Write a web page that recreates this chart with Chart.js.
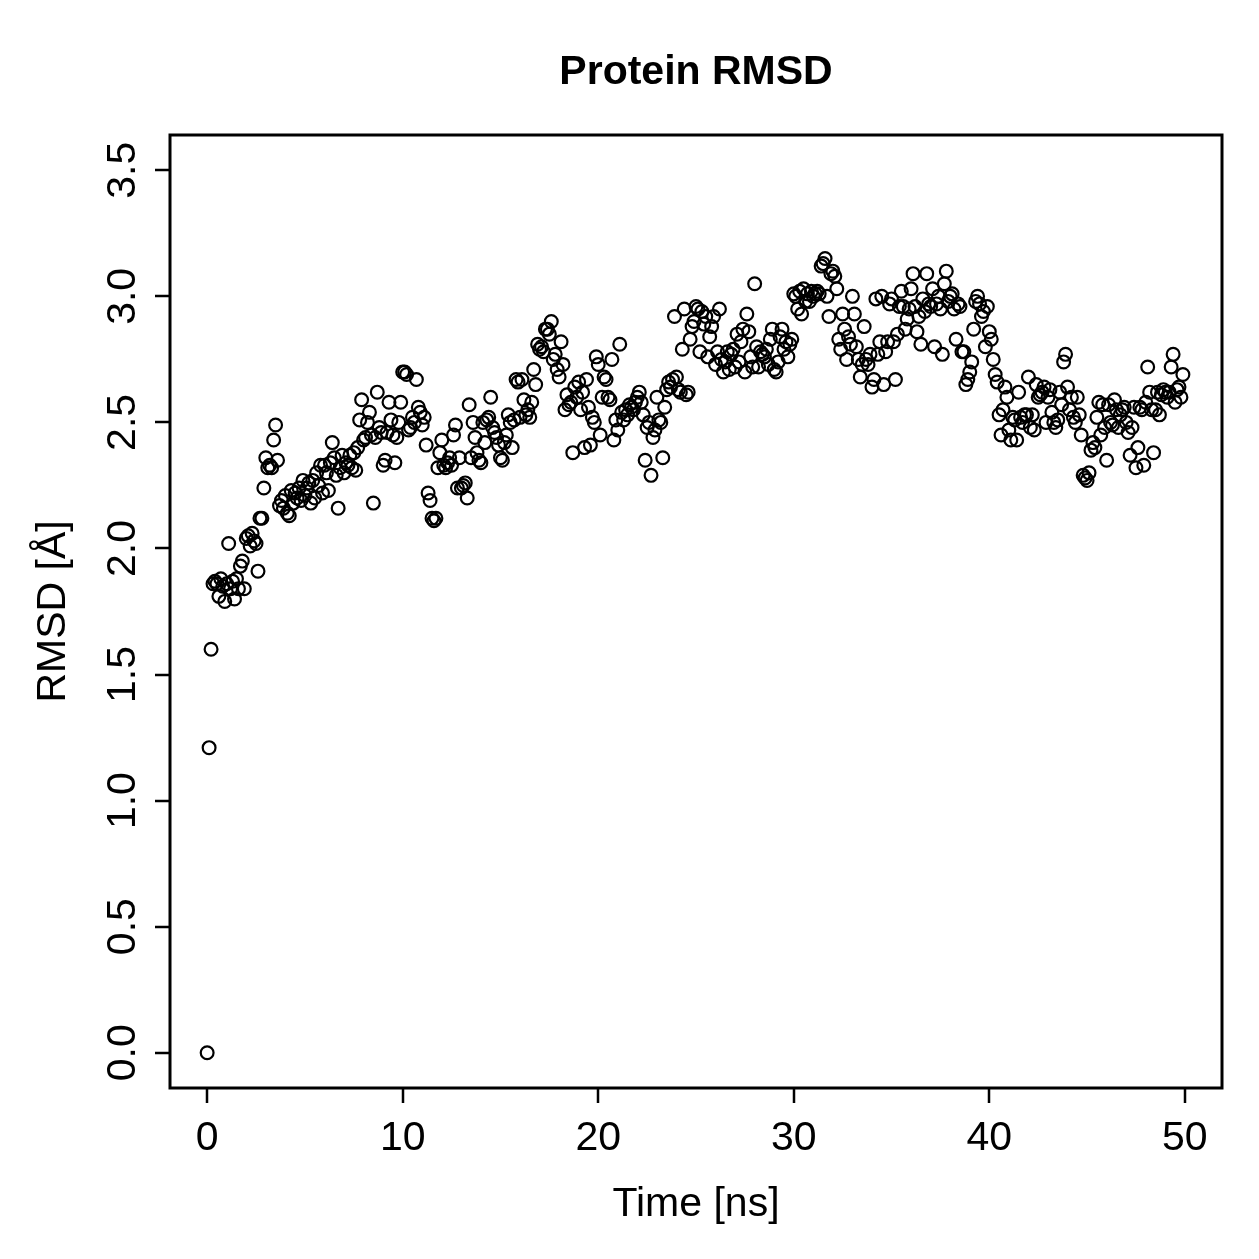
<!DOCTYPE html>
<html>
<head>
<meta charset="utf-8">
<title>Protein RMSD</title>
<script src="https://cdn.jsdelivr.net/npm/chart.js@4.4.1/dist/chart.umd.min.js"></script>
<style>
  html, body { margin: 0; padding: 0; background: #fff; }
  #wrap { width: 1259px; height: 1259px; }
</style>
</head>
<body>
<div id="wrap"><canvas id="rmsdPlot" width="1259" height="1259"></canvas></div>
<script>
// Time [ns], one frame every 0.1 ns
const time = [
  0.0, 0.1, 0.2, 0.3, 0.4, 0.5, 0.6, 0.7, 0.8, 0.9,
  1.0, 1.1, 1.2, 1.3, 1.4, 1.5, 1.6, 1.7, 1.8, 1.9,
  2.0, 2.1, 2.2, 2.3, 2.4, 2.5, 2.6, 2.7, 2.8, 2.9,
  3.0, 3.1, 3.2, 3.3, 3.4, 3.5, 3.6, 3.7, 3.8, 3.9,
  4.0, 4.1, 4.2, 4.3, 4.4, 4.5, 4.6, 4.7, 4.8, 4.9,
  5.0, 5.1, 5.2, 5.3, 5.4, 5.5, 5.6, 5.7, 5.8, 5.9,
  6.0, 6.1, 6.2, 6.3, 6.4, 6.5, 6.6, 6.7, 6.8, 6.9,
  7.0, 7.1, 7.2, 7.3, 7.4, 7.5, 7.6, 7.7, 7.8, 7.9,
  8.0, 8.1, 8.2, 8.3, 8.4, 8.5, 8.6, 8.7, 8.8, 8.9,
  9.0, 9.1, 9.2, 9.3, 9.4, 9.5, 9.6, 9.7, 9.8, 9.9,
  10.0, 10.1, 10.2, 10.3, 10.4, 10.5, 10.6, 10.7, 10.8, 10.9,
  11.0, 11.1, 11.2, 11.3, 11.4, 11.5, 11.6, 11.7, 11.8, 11.9,
  12.0, 12.1, 12.2, 12.3, 12.4, 12.5, 12.6, 12.7, 12.8, 12.9,
  13.0, 13.1, 13.2, 13.3, 13.4, 13.5, 13.6, 13.7, 13.8, 13.9,
  14.0, 14.1, 14.2, 14.3, 14.4, 14.5, 14.6, 14.7, 14.8, 14.9,
  15.0, 15.1, 15.2, 15.3, 15.4, 15.5, 15.6, 15.7, 15.8, 15.9,
  16.0, 16.1, 16.2, 16.3, 16.4, 16.5, 16.6, 16.7, 16.8, 16.9,
  17.0, 17.1, 17.2, 17.3, 17.4, 17.5, 17.6, 17.7, 17.8, 17.9,
  18.0, 18.1, 18.2, 18.3, 18.4, 18.5, 18.6, 18.7, 18.8, 18.9,
  19.0, 19.1, 19.2, 19.3, 19.4, 19.5, 19.6, 19.7, 19.8, 19.9,
  20.0, 20.1, 20.2, 20.3, 20.4, 20.5, 20.6, 20.7, 20.8, 20.9,
  21.0, 21.1, 21.2, 21.3, 21.4, 21.5, 21.6, 21.7, 21.8, 21.9,
  22.0, 22.1, 22.2, 22.3, 22.4, 22.5, 22.6, 22.7, 22.8, 22.9,
  23.0, 23.1, 23.2, 23.3, 23.4, 23.5, 23.6, 23.7, 23.8, 23.9,
  24.0, 24.1, 24.2, 24.3, 24.4, 24.5, 24.6, 24.7, 24.8, 24.9,
  25.0, 25.1, 25.2, 25.3, 25.4, 25.5, 25.6, 25.7, 25.8, 25.9,
  26.0, 26.1, 26.2, 26.3, 26.4, 26.5, 26.6, 26.7, 26.8, 26.9,
  27.0, 27.1, 27.2, 27.3, 27.4, 27.5, 27.6, 27.7, 27.8, 27.9,
  28.0, 28.1, 28.2, 28.3, 28.4, 28.5, 28.6, 28.7, 28.8, 28.9,
  29.0, 29.1, 29.2, 29.3, 29.4, 29.5, 29.6, 29.7, 29.8, 29.9,
  30.0, 30.1, 30.2, 30.3, 30.4, 30.5, 30.6, 30.7, 30.8, 30.9,
  31.0, 31.1, 31.2, 31.3, 31.4, 31.5, 31.6, 31.7, 31.8, 31.9,
  32.0, 32.1, 32.2, 32.3, 32.4, 32.5, 32.6, 32.7, 32.8, 32.9,
  33.0, 33.1, 33.2, 33.3, 33.4, 33.5, 33.6, 33.7, 33.8, 33.9,
  34.0, 34.1, 34.2, 34.3, 34.4, 34.5, 34.6, 34.7, 34.8, 34.9,
  35.0, 35.1, 35.2, 35.3, 35.4, 35.5, 35.6, 35.7, 35.8, 35.9,
  36.0, 36.1, 36.2, 36.3, 36.4, 36.5, 36.6, 36.7, 36.8, 36.9,
  37.0, 37.1, 37.2, 37.3, 37.4, 37.5, 37.6, 37.7, 37.8, 37.9,
  38.0, 38.1, 38.2, 38.3, 38.4, 38.5, 38.6, 38.7, 38.8, 38.9,
  39.0, 39.1, 39.2, 39.3, 39.4, 39.5, 39.6, 39.7, 39.8, 39.9,
  40.0, 40.1, 40.2, 40.3, 40.4, 40.5, 40.6, 40.7, 40.8, 40.9,
  41.0, 41.1, 41.2, 41.3, 41.4, 41.5, 41.6, 41.7, 41.8, 41.9,
  42.0, 42.1, 42.2, 42.3, 42.4, 42.5, 42.6, 42.7, 42.8, 42.9,
  43.0, 43.1, 43.2, 43.3, 43.4, 43.5, 43.6, 43.7, 43.8, 43.9,
  44.0, 44.1, 44.2, 44.3, 44.4, 44.5, 44.6, 44.7, 44.8, 44.9,
  45.0, 45.1, 45.2, 45.3, 45.4, 45.5, 45.6, 45.7, 45.8, 45.9,
  46.0, 46.1, 46.2, 46.3, 46.4, 46.5, 46.6, 46.7, 46.8, 46.9,
  47.0, 47.1, 47.2, 47.3, 47.4, 47.5, 47.6, 47.7, 47.8, 47.9,
  48.0, 48.1, 48.2, 48.3, 48.4, 48.5, 48.6, 48.7, 48.8, 48.9,
  49.0, 49.1, 49.2, 49.3, 49.4, 49.5, 49.6, 49.7, 49.8, 49.9
];

// RMSD [Å] (one row = 1 ns)
const rmsd = [
  0.00, 1.21, 1.60, 1.86, 1.87, 1.86, 1.81, 1.88, 1.85, 1.79,
  1.86, 2.02, 1.84, 1.87, 1.80, 1.88, 1.84, 1.93, 1.95, 1.84,
  2.04, 2.05, 2.01, 2.06, 2.03, 2.02, 1.91, 2.12, 2.12, 2.24,
  2.36, 2.32, 2.33, 2.32, 2.43, 2.49, 2.35, 2.17, 2.19, 2.16,
  2.21, 2.14, 2.13, 2.23, 2.18, 2.22, 2.20, 2.24, 2.19, 2.27,
  2.21, 2.24, 2.26, 2.18, 2.27, 2.20, 2.30, 2.25, 2.33, 2.22,
  2.33, 2.30, 2.23, 2.34, 2.42, 2.36, 2.29, 2.16, 2.32, 2.37,
  2.30, 2.34, 2.33, 2.37, 2.32, 2.38, 2.31, 2.40, 2.51, 2.59,
  2.43, 2.44, 2.50, 2.54, 2.45, 2.18, 2.44, 2.62, 2.48, 2.46,
  2.33, 2.35, 2.46, 2.58, 2.51, 2.45, 2.34, 2.44, 2.50, 2.58,
  2.70, 2.70, 2.69, 2.47, 2.48, 2.52, 2.50, 2.67, 2.56, 2.54,
  2.49, 2.52, 2.41, 2.22, 2.19, 2.12, 2.11, 2.12, 2.32, 2.38,
  2.43, 2.33, 2.32, 2.34, 2.36, 2.33, 2.45, 2.49, 2.24, 2.36,
  2.24, 2.25, 2.26, 2.20, 2.57, 2.36, 2.50, 2.44, 2.38, 2.35,
  2.34, 2.50, 2.42, 2.51, 2.52, 2.60, 2.48, 2.46, 2.44, 2.41,
  2.36, 2.35, 2.42, 2.45, 2.53, 2.50, 2.40, 2.51, 2.67, 2.66,
  2.52, 2.67, 2.59, 2.53, 2.55, 2.52, 2.58, 2.71, 2.65, 2.81,
  2.79, 2.80, 2.78, 2.87, 2.87, 2.85, 2.90, 2.75, 2.77, 2.71,
  2.68, 2.82, 2.73, 2.55, 2.61, 2.57, 2.58, 2.38, 2.64, 2.60,
  2.66, 2.55, 2.62, 2.40, 2.67, 2.56, 2.41, 2.52, 2.50, 2.76,
  2.73, 2.45, 2.60, 2.68, 2.67, 2.60, 2.59, 2.75, 2.43, 2.51,
  2.47, 2.81, 2.54, 2.51, 2.55, 2.53, 2.57, 2.56, 2.55, 2.58,
  2.60, 2.62, 2.58, 2.53, 2.35, 2.48, 2.50, 2.29, 2.44, 2.47,
  2.60, 2.51, 2.50, 2.36, 2.56, 2.63, 2.66, 2.64, 2.67, 2.92,
  2.68, 2.63, 2.62, 2.79, 2.95, 2.61, 2.62, 2.83, 2.88, 2.90,
  2.96, 2.95, 2.78, 2.94, 2.89, 2.92, 2.76, 2.84, 2.88, 2.92,
  2.73, 2.78, 2.95, 2.75, 2.70, 2.74, 2.78, 2.71, 2.77, 2.79,
  2.72, 2.85, 2.74, 2.82, 2.87, 2.70, 2.93, 2.86, 2.76, 2.72,
  3.05, 2.80, 2.72, 2.78, 2.77, 2.76, 2.79, 2.73, 2.83, 2.87,
  2.71, 2.70, 2.74, 2.84, 2.87, 2.79, 2.82, 2.76, 2.81, 2.83,
  3.01, 3.00, 2.95, 3.02, 2.93, 3.03, 2.98, 3.01, 2.98, 3.02,
  3.00, 3.01, 3.02, 3.01, 3.12, 3.13, 3.15, 3.00, 2.92, 3.09,
  3.10, 3.08, 3.03, 2.83, 2.79, 2.93, 2.87, 2.75, 2.84, 2.81,
  3.00, 2.93, 2.80, 2.75, 2.68, 2.73, 2.88, 2.75, 2.73, 2.77,
  2.64, 2.67, 2.99, 2.77, 2.82, 3.00, 2.65, 2.78, 2.82, 2.97,
  2.99, 2.82, 2.67, 2.85, 2.96, 3.02, 2.96, 2.87, 2.91, 2.95,
  3.03, 3.09, 2.96, 2.86, 2.92, 2.81, 2.99, 2.94, 3.09, 2.97,
  2.96, 3.03, 2.80, 2.97, 3.00, 2.95, 2.77, 3.05, 3.10, 2.98,
  3.00, 3.01, 2.95, 2.83, 2.97, 2.96, 2.78, 2.78, 2.65, 2.67,
  2.70, 2.74, 2.87, 2.98, 3.00, 2.97, 2.92, 2.94, 2.80, 2.96,
  2.86, 2.83, 2.75, 2.69, 2.66, 2.53, 2.45, 2.55, 2.64, 2.60,
  2.47, 2.43, 2.52, 2.51, 2.43, 2.62, 2.52, 2.50, 2.53, 2.53,
  2.68, 2.48, 2.53, 2.47, 2.65, 2.60, 2.61, 2.62, 2.64, 2.50,
  2.60, 2.63, 2.54, 2.50, 2.48, 2.51, 2.62, 2.57, 2.74, 2.77,
  2.64, 2.55, 2.60, 2.52, 2.50, 2.60, 2.53, 2.45, 2.29, 2.28,
  2.27, 2.30, 2.39, 2.42, 2.40, 2.52, 2.58, 2.45, 2.57, 2.48,
  2.35, 2.57, 2.50, 2.49, 2.59, 2.55, 2.48, 2.53, 2.55, 2.56,
  2.50, 2.46, 2.37, 2.48, 2.56, 2.32, 2.40, 2.56, 2.55, 2.33,
  2.58, 2.72, 2.62, 2.55, 2.38, 2.55, 2.62, 2.53, 2.61, 2.63,
  2.62, 2.60, 2.62, 2.72, 2.77, 2.58, 2.63, 2.64, 2.60, 2.69
];

const xTicks = [0, 10, 20, 30, 40, 50];
const yTicks = [0, 0.5, 1, 1.5, 2, 2.5, 3, 3.5];
const yTickLabels = ['0.0', '0.5', '1.0', '1.5', '2.0', '2.5', '3.0', '3.5'];

const FONT = '"Liberation Sans", Arial, Helvetica, sans-serif';

// R style frame: box, outside ticks, rotated y labels
const rAxes = {
  id: 'rAxes',
  afterDraw(chart) {
    const { ctx, chartArea: a } = chart;
    const x = chart.scales.x;
    const y = chart.scales.y;
    ctx.save();
    ctx.strokeStyle = '#000';
    ctx.fillStyle = '#000';
    ctx.lineWidth = 3;
    ctx.strokeRect(a.left, a.top, a.right - a.left, a.bottom - a.top);

    ctx.lineWidth = 2.5;
    ctx.beginPath();
    xTicks.forEach((v) => {
      const px = Math.round(x.getPixelForValue(v));
      ctx.moveTo(px, a.bottom);
      ctx.lineTo(px, a.bottom + 15);
    });
    yTicks.forEach((v) => {
      const py = Math.round(y.getPixelForValue(v));
      ctx.moveTo(a.left, py);
      ctx.lineTo(a.left - 15, py);
    });
    ctx.stroke();

    ctx.font = '41px ' + FONT;
    ctx.textAlign = 'center';
    ctx.textBaseline = 'alphabetic';
    xTicks.forEach((v) => {
      ctx.fillText(String(v), x.getPixelForValue(v), 1150);
    });
    yTicks.forEach((v, i) => {
      ctx.save();
      ctx.translate(135, y.getPixelForValue(v));
      ctx.rotate(-Math.PI / 2);
      ctx.fillText(yTickLabels[i], 0, 0);
      ctx.restore();
    });

    // axis titles
    const midX = (a.left + a.right) / 2;
    ctx.fillText('Time [ns]', midX, 1216);
    ctx.save();
    ctx.translate(65, (a.top + a.bottom) / 2);
    ctx.rotate(-Math.PI / 2);
    ctx.fillText('RMSD [Å]', 0, 0);
    ctx.restore();

    ctx.font = 'bold 41px ' + FONT;
    ctx.fillText('Protein RMSD', midX, 84);
    ctx.restore();
  }
};

const ctx = document.getElementById('rmsdPlot').getContext('2d');
const rmsdChart = new Chart(ctx, {
  type: 'scatter',
  data: {
    datasets: [
      {
        label: 'RMSD',
        data: time.map((t, i) => ({ x: t, y: rmsd[i] })),
        pointStyle: 'circle',
        pointRadius: 6.4,
        pointBorderWidth: 2.2,
        pointBorderColor: '#000',
        pointBackgroundColor: 'rgba(0,0,0,0)',
        showLine: false
      }
    ]
  },
  options: {
    responsive: false,
    animation: false,
    devicePixelRatio: 1,
    layout: { padding: { left: 170, top: 135, right: 37, bottom: 171 } },
    scales: {
      x: { type: 'linear', min: -1.9, max: 51.9, display: false },
      y: { type: 'linear', min: -0.14, max: 3.64, display: false }
    },
    plugins: {
      legend: { display: false },
      tooltip: { enabled: false }
    }
  },
  plugins: [rAxes]
});
</script>
</body>
</html>
